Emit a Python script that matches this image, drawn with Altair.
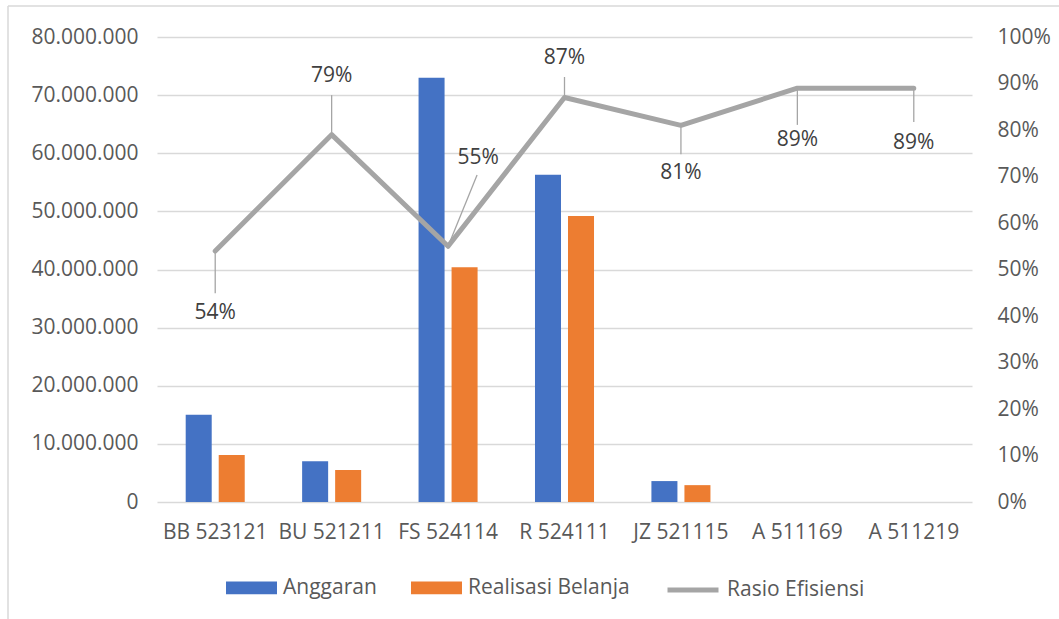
import altair as alt
import pandas as pd

# Kode akun belanja
categories = ["BB 523121", "BU 521211", "FS 524114", "R 524111",
              "JZ 521115", "A 511169", "A 511219"]
# Pagu anggaran dan realisasi belanja (Rp)
anggaran = [15000000, 7000000, 73000000, 56300000, 3600000, 0, 0]
realisasi = [8100000, 5500000, 40400000, 49200000, 2900000, 0, 0]
# Rasio efisiensi per akun
rasio = [0.54, 0.79, 0.55, 0.87, 0.81, 0.89, 0.89]

# Posisi label persentase dan ujung garis penunjuk (dalam skala rasio)
label_pos = [0.406, 0.916, 0.740, 0.955, 0.708, 0.778, 0.772]
leader_end = [0.449, 0.875, 0.703, 0.914, 0.748, 0.811, 0.817]

BLUE, ORANGE, GRAY = "#4472C4", "#ED7D31", "#A5A5A5"
GRID = "#D9D9D9"
FONT = "Open Sans"
FS = 21

bar_series = ["Anggaran", "Realisasi Belanja"]
bars_df = pd.DataFrame({
    "kategori": categories * 2,
    "seri": [bar_series[0]] * len(categories) + [bar_series[1]] * len(categories),
    "nilai": anggaran + realisasi,
})
ratio_df = pd.DataFrame({
    "kategori": categories,
    "rasio": rasio,
    "seri": ["Rasio Efisiensi"] * len(categories),
    "label_y": label_pos,
    "leader_y": leader_end,
})

x_axis = alt.Axis(labelAngle=0, labelFontSize=FS, labelColor="#595959", labelFont=FONT,
                  labelPadding=19, domain=False, ticks=False, grid=False)
x_scale = alt.Scale(paddingInner=0.493, paddingOuter=0.2465)


def x_enc():
    return alt.X("kategori:N", sort=categories, title=None, scale=x_scale, axis=x_axis)


ratio_scale = alt.Scale(domain=[0, 1], nice=False, zero=True)
ratio_axis = alt.Axis(orient="right", format=".0%", values=[i / 10 for i in range(11)],
                      grid=False, domain=False, ticks=False, labelPadding=25,
                      labelFontSize=FS, labelColor="#595959", labelFont=FONT, title=None)


def ratio_y(field):
    return alt.Y(field, scale=ratio_scale, axis=ratio_axis, title=None)


# Kotak tepi area grafik
frame_df = pd.DataFrame({"k": [0]})
frame_top = alt.Chart(frame_df).mark_rule(color=GRID, strokeWidth=1.5).encode(
    x=alt.value(-149), x2=alt.value(902), y=alt.value(-31))
frame_left = alt.Chart(frame_df).mark_rule(color=GRID, strokeWidth=1.5).encode(
    x=alt.value(-149), y=alt.value(-31), y2=alt.value(582))

legend_common = dict(orient="none", legendY=525, direction="horizontal", title=None,
                     labelFontSize=FS, labelFont=FONT, labelColor="#595959",
                     labelOffset=6, labelLimit=0, symbolSize=2601)

bars = alt.Chart(bars_df).mark_bar().encode(
    x=x_enc(),
    xOffset=alt.XOffset("seri:N", sort=bar_series,
                        scale=alt.Scale(paddingInner=0.212, paddingOuter=0)),
    y=alt.Y("nilai:Q", title=None,
            scale=alt.Scale(domain=[0, 80000000], nice=False),
            axis=alt.Axis(values=list(range(0, 80000001, 10000000)),
                          labelExpr="replace(format(datum.value, ','), regexp(',', 'g'), '.')",
                          gridColor=GRID, gridWidth=1.5, domain=False, ticks=False,
                          labelPadding=19, labelFontSize=FS, labelColor="#595959",
                          labelFont=FONT)),
    color=alt.Color("seri:N", scale=alt.Scale(domain=bar_series, range=[BLUE, ORANGE]),
                    legend=alt.Legend(legendX=69, symbolType="M-1,-0.25H1V0.25H-1Z",
                                      symbolStrokeWidth=0, columnPadding=34,
                                      **legend_common)),
)

line = alt.Chart(ratio_df).mark_line(strokeWidth=5, strokeJoin="round", strokeCap="round").encode(
    x=x_enc(),
    y=ratio_y("rasio:Q"),
    stroke=alt.Stroke("seri:N", scale=alt.Scale(domain=["Rasio Efisiensi"], range=[GRAY]),
                      legend=alt.Legend(legendX=508, symbolType="stroke",
                                        symbolStrokeWidth=5, **legend_common)),
)

leaders = alt.Chart(ratio_df).mark_rule(color=GRAY, strokeWidth=1.3).encode(
    x=x_enc(), y=ratio_y("rasio:Q"), y2="leader_y:Q",
).transform_filter(alt.datum.kategori != "FS 524114")

leader_fs = alt.Chart(ratio_df).mark_rule(color=GRAY, strokeWidth=1.3, x2Offset=29).encode(
    x=x_enc(), x2="kategori:N", y=ratio_y("rasio:Q"), y2="leader_y:Q",
).transform_filter(alt.datum.kategori == "FS 524114")

labels = alt.Chart(ratio_df).mark_text(fontSize=FS, font=FONT, color="#404040",
                                       baseline="middle").encode(
    x=x_enc(), y=ratio_y("label_y:Q"), text=alt.Text("rasio:Q", format=".0%"),
).transform_filter(alt.datum.kategori != "FS 524114")

label_fs = alt.Chart(ratio_df).mark_text(fontSize=FS, font=FONT, color="#404040",
                                         baseline="middle", dx=30).encode(
    x=x_enc(), y=ratio_y("label_y:Q"), text=alt.Text("rasio:Q", format=".0%"),
).transform_filter(alt.datum.kategori == "FS 524114")

ratio_layer = alt.layer(line, leaders, leader_fs, labels, label_fs)

chart = alt.layer(frame_top, frame_left, bars, ratio_layer).resolve_scale(
    y="independent"
).properties(
    width=815, height=465,
    autosize=alt.AutoSizeParams(type="none"),
    padding={"left": 157, "top": 37, "right": 87, "bottom": 117},
    background="white",
).configure_view(stroke=None)

chart.save("out.html", embed_options={"renderer": "svg", "actions": False})
